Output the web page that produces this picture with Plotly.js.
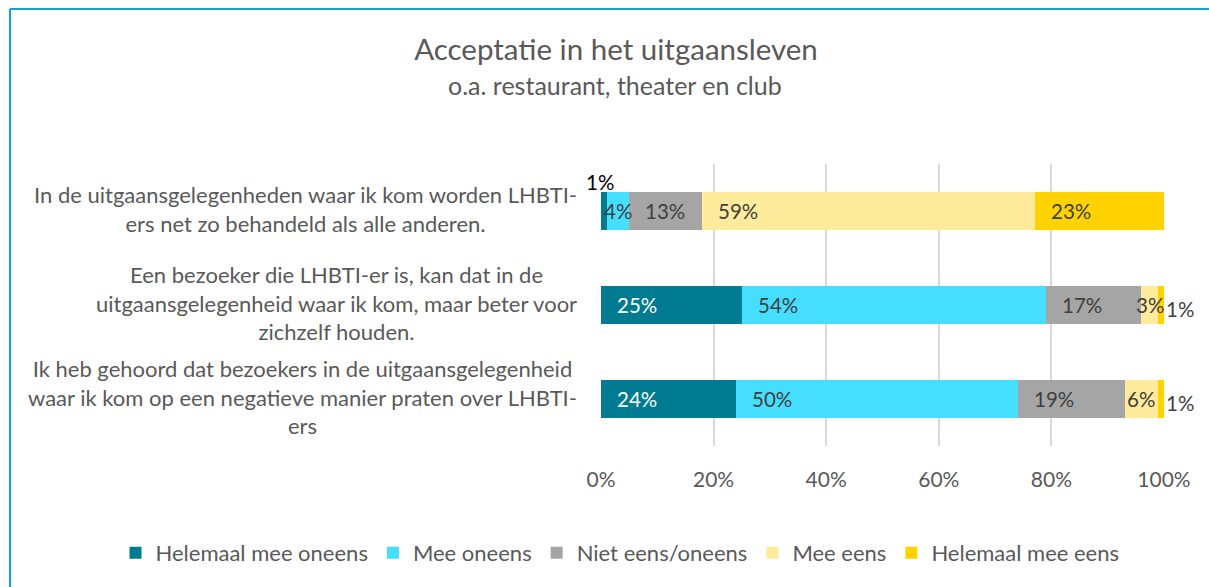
<!DOCTYPE html>
<html><head><meta charset="utf-8">
<script src="https://cdn.plot.ly/plotly-3.0.1.min.js"></script>
<style>html,body{margin:0;padding:0;background:#fff;}#chart{width:1209px;height:587px;}</style>
</head><body><div id="chart"></div>
<script>
// ---- data ----
const categories = [
  "In de uitgaansgelegenheden waar ik kom worden LHBTI-<br>ers net zo behandeld als alle anderen.",
  "Een bezoeker die LHBTI-er is, kan dat in de<br>uitgaansgelegenheid waar ik kom, maar beter voor<br>zichzelf houden.",
  "Ik heb gehoord dat bezoekers in de uitgaansgelegenheid<br>waar ik kom op een negatieve manier praten over LHBTI-<br>ers"
];
const seriesNames = ["Helemaal mee oneens", "Mee oneens", "Niet eens/oneens", "Mee eens", "Helemaal mee eens"];
const helemaalMeeOneens = [1, 25, 24];
const meeOneens = [4, 54, 50];
const nietEensOneens = [13, 17, 19];
const meeEens = [59, 3, 6];
const helemaalMeeEens = [23, 1, 1];
const seriesValues = [helemaalMeeOneens, meeOneens, nietEensOneens, meeEens, helemaalMeeEens];
const tickValues = [0, 20, 40, 60, 80, 100];
const tickLabels = ["0%", "20%", "40%", "60%", "80%", "100%"];
const title = "Acceptatie in het uitgaansleven";
const subtitle = "o.a. restaurant, theater en club";

// ---- style ----
const colors = ["#007b92", "#45deff", "#a5a5a5", "#ffeb9c", "#ffd200"];
const labelColors = ["#ffffff", "#404040", "#404040", "#404040", "#404040"];
const FONT = "Lato, 'Open Sans', sans-serif";
const W = 1209, H = 587;
const L = 601, R = 1164, T = 164, B = 446;
const px2paperX = x => x / W;
const px2paperY = y => (B - y) / (B - T);

const traces = seriesNames.map((name, i) => ({
  type: "bar", orientation: "h", name: name,
  x: seriesValues[i], y: categories,
  marker: {color: colors[i], line: {width: 0}},
  hoverinfo: "skip"
}));

const annotations = [];
// category labels (centered multi-line, right-aligned block)
categories.forEach(c => annotations.push({
  xref: "paper", yref: "y", x: px2paperX(L), y: c, xanchor: "right", yanchor: "middle",
  xshift: -22, yshift: 2, text: c, align: "center", showarrow: false,
  font: {family: FONT, size: 22, color: "#595959"}
}));
// data labels
categories.forEach((c, ci) => {
  let start = 0;
  seriesValues.forEach((vals, si) => {
    const v = vals[ci];
    const txt = v + "%";
    if (v <= 1) {
      if (si === seriesValues.length - 1) {
        annotations.push({xref: "x", yref: "y", x: start + v, y: c, xanchor: "left", yanchor: "middle",
          xshift: 0, yshift: -4, text: txt, showarrow: false,
          font: {family: FONT, size: 20.5, color: "#404040"}});
      } else {
        annotations.push({xref: "x", yref: "y", x: start + v / 2, y: c, xanchor: "center", yanchor: "middle",
          xshift: -4, yshift: 29, text: txt, showarrow: false,
          font: {family: FONT, size: 20.5, color: "#000000"}});
      }
    } else {
      annotations.push({xref: "x", yref: "y", x: start + Math.min(v / 2, 6.4), y: c,
        xanchor: "center", yanchor: "middle", text: txt, showarrow: false,
        font: {family: FONT, size: 20.5, color: labelColors[si]}});
    }
    start += v;
  });
});
// subtitle
annotations.push({xref: "paper", yref: "paper", x: px2paperX(615), y: px2paperY(85),
  xanchor: "center", yanchor: "middle", text: subtitle, showarrow: false,
  font: {family: FONT, size: 25, color: "#595959"}});

const shapes = [
  {type: "line", xref: "paper", yref: "paper", x0: px2paperX(10), x1: px2paperX(1215),
    y0: px2paperY(9), y1: px2paperY(9), line: {color: "#13a3c7", width: 2}},
  {type: "line", xref: "paper", yref: "paper", x0: px2paperX(10), x1: px2paperX(10),
    y0: px2paperY(9), y1: px2paperY(600), line: {color: "#13a3c7", width: 2}}
];

const layout = {
  width: W, height: H,
  margin: {l: 0, r: 0, t: T, b: H - B, pad: 0, autoexpand: false},
  paper_bgcolor: "#ffffff", plot_bgcolor: "#ffffff",
  barmode: "stack", bargap: 0.6,
  title: {text: title, x: 616 / W, xref: "container", xanchor: "center",
    y: 1 - 50 / H, yref: "container", yanchor: "middle",
    font: {family: FONT, size: 29.5, color: "#595959"}},
  xaxis: {domain: [L / W, R / W], range: [0, 100], tickvals: tickValues, ticktext: tickLabels,
    showgrid: true, gridcolor: "#d9d9d9", gridwidth: 2, zeroline: false,
    showline: false, ticks: "", ticklabelstandoff: 19,
    tickfont: {family: FONT, size: 21, color: "#595959"}, fixedrange: true},
  yaxis: {type: "category", autorange: "reversed", showticklabels: false,
    showgrid: false, zeroline: false, showline: false, ticks: "", fixedrange: true},
  showlegend: true,
  legend: {orientation: "h", x: px2paperX(620), xanchor: "center", y: px2paperY(553), yanchor: "middle",
    font: {family: FONT, size: 22, color: "#595959"}, itemclick: false, itemdoubleclick: false,
    traceorder: "normal", itemwidth: 30},
  annotations: annotations, shapes: shapes
};

Plotly.newPlot("chart", traces, layout, {displayModeBar: false, staticPlot: true});
</script></body></html>
